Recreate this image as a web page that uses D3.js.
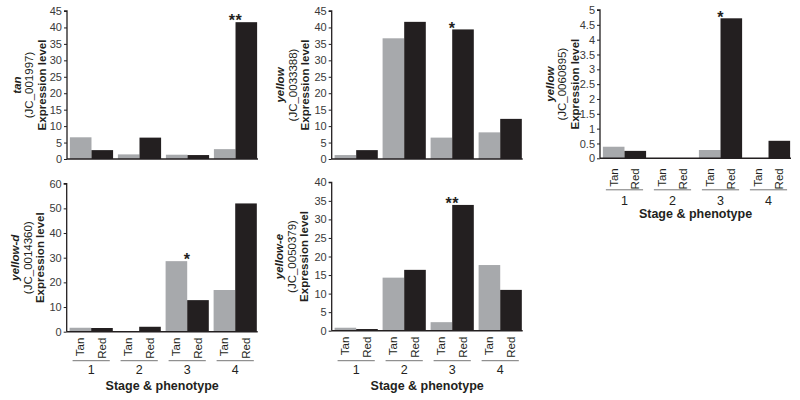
<!DOCTYPE html>
<html><head><meta charset="utf-8">
<script src="https://cdn.jsdelivr.net/npm/d3@7"></script>
<style>
body{margin:0;background:#fff;}
svg{display:block;font-family:"Liberation Sans",Arial,sans-serif;}
</style></head>
<body><svg id="c" width="800" height="400"></svg>
<script>
// ---- data ----
const stages = ["1","2","3","4"];
const phenotypes = ["Tan","Red"];
const geneNames = ["tan","yellow","yellow","yellow-d","yellow-e"];
const geneIds = ["(JC_001997)","(JC_0033388)","(JC_0060895)","(JC_0014360)","(JC_0050379)"];
const yLabel = "Expression level";
const xTitle = "Stage & phenotype";

const tan001997Tan = [6.6, 1.4, 1.3, 3.0];
const tan001997Red = [2.7, 6.5, 1.2, 41.6];
const tan001997Sig = ["", "", "", "**"];

const yellow0033388Tan = [1.2, 36.7, 6.5, 8.1];
const yellow0033388Red = [2.7, 41.7, 39.4, 12.2];
const yellow0033388Sig = ["", "", "*", ""];

const yellow0060895Tan = [0.39, 0, 0.28, 0];
const yellow0060895Red = [0.25, 0, 4.72, 0.59];
const yellow0060895Sig = ["", "", "*", ""];

const yellowD0014360Tan = [1.6, 0.2, 28.6, 16.9];
const yellowD0014360Red = [1.5, 2.0, 12.8, 52.0];
const yellowD0014360Sig = ["", "", "*", ""];

const yellowE0050379Tan = [0.8, 14.3, 2.3, 17.7];
const yellowE0050379Red = [0.45, 16.4, 33.9, 11.0];
const yellowE0050379Sig = ["", "", "**", ""];

const ticks45 = [0,5,10,15,20,25,30,35,40,45];
const ticks5 = [0,0.5,1,1.5,2,2.5,3,3.5,4,4.5,5];
const ticks60 = [0,10,20,30,40,50,60];
const ticks40 = [0,5,10,15,20,25,30,35,40];

const colors = {Tan:"#a7a9ac", Red:"#231f20"};

// ---- layout (positions only) ----
const panels = [
  {i:0, tan:tan001997Tan, red:tan001997Red, sig:tan001997Sig, ticks:ticks45, x0:67, top:11, bottom:159, xl:false, lab:[17,29,41.5], geneDy:0},
  {i:1, tan:yellow0033388Tan, red:yellow0033388Red, sig:yellow0033388Sig, ticks:ticks45, x0:331.7, top:11, bottom:159, xl:false, lab:[280,292.5,305], geneDy:0},
  {i:2, tan:yellow0060895Tan, red:yellow0060895Red, sig:yellow0060895Sig, ticks:ticks5, x0:600, top:10, bottom:158.3, xl:true, lab:[550,562,574.5], geneDy:0, lt:10, ul:31.5, nb:46.5, tb:60},
  {i:3, tan:yellowD0014360Tan, red:yellowD0014360Red, sig:yellowD0014360Sig, ticks:ticks60, x0:66.7, top:183.7, bottom:331.7, xl:true, lab:[15,27.5,40], geneDy:0, lt:6, ul:29, nb:42.5, tb:58.5},
  {i:4, tan:yellowE0050379Tan, red:yellowE0050379Red, sig:yellowE0050379Sig, ticks:ticks40, x0:331.7, top:182.3, bottom:330.7, xl:true, lab:[279,291.5,304], geneDy:0, lt:6, ul:30, nb:43.5, tb:59}
];

const svg = d3.select("#c");

panels.forEach(p => {
  const g = svg.append("g");
  const y = d3.scaleLinear().domain([0, d3.max(p.ticks)]).range([p.bottom, p.top]);
  const x = d3.scaleBand().domain(stages).range([p.x0, p.x0 + 193]).paddingInner(0.1).paddingOuter(0.06);
  const xs = d3.scaleBand().domain(phenotypes).range([0, x.bandwidth()]);
  const xEnd = p.x0 + 191;

  // bars
  stages.forEach((s, k) => {
    const vals = {Tan: p.tan[k], Red: p.red[k]};
    phenotypes.forEach(ph => {
      g.append("rect")
        .attr("x", x(s) + xs(ph))
        .attr("width", xs.bandwidth())
        .attr("y", y(vals[ph]))
        .attr("height", Math.max(0, p.bottom - y(vals[ph])))
        .attr("fill", colors[ph]);
    });
    if (p.sig[k]) {
      g.append("text")
        .attr("x", x(s) + xs.bandwidth())
        .attr("y", y(Math.max(vals.Tan, vals.Red)) + 4.2)
        .attr("text-anchor", "middle")
        .attr("font-size", 16).attr("font-weight", "bold")
        .attr("letter-spacing", 0.5)
        .attr("fill", "#231f20")
        .text(p.sig[k]);
    }
  });

  // y axis
  const ax = d3.axisLeft(y).tickValues(p.ticks).tickSize(3).tickPadding(2).tickFormat(d3.format("~g"));
  const ag = g.append("g").attr("transform", `translate(${p.x0},0)`).call(ax);
  ag.select(".domain").attr("stroke", "#231f20").attr("stroke-width", 1.3).attr("d", `M-3,${p.top}H0V${p.bottom}`);
  ag.selectAll(".tick line").attr("stroke", "#231f20");
  ag.selectAll(".tick text").attr("font-size", 11).attr("fill", "#3a3a3a").attr("font-family", "Liberation Sans, Arial, sans-serif");

  // baseline
  g.append("line").attr("x1", p.x0).attr("x2", xEnd).attr("y1", p.bottom).attr("y2", p.bottom)
    .attr("stroke", "#231f20").attr("stroke-width", 1.6);

  // y label
  const cy = (p.top + p.bottom) / 2;
  const ylines = [
    {t: geneNames[p.i], cx: p.lab[0], dy: p.geneDy, style: "italic", w: "bold"},
    {t: geneIds[p.i], cx: p.lab[1], dy: 0, style: "normal", w: "normal"},
    {t: yLabel, cx: p.lab[2], dy: 0, style: "normal", w: "bold"}
  ];
  ylines.forEach(l => {
    g.append("text")
      .attr("transform", `translate(${l.cx},${cy + l.dy}) rotate(-90)`)
      .attr("text-anchor", "middle").attr("dominant-baseline", "central")
      .attr("font-size", 11.5).attr("font-style", l.style).attr("font-weight", l.w)
      .attr("fill", "#231f20")
      .text(l.t);
  });

  // x labels
  if (p.xl) {
    stages.forEach(s => {
      phenotypes.forEach(ph => {
        g.append("text")
          .attr("transform", `translate(${x(s) + xs(ph) + xs.bandwidth()/2},${p.bottom + p.lt}) rotate(-90)`)
          .attr("text-anchor", "end").attr("dominant-baseline", "central")
          .attr("font-size", 11.5).attr("fill", "#231f20")
          .text(ph);
      });
      g.append("line")
        .attr("x1", x(s) + 3).attr("x2", x(s) + x.bandwidth() - 3)
        .attr("y1", p.bottom + p.ul).attr("y2", p.bottom + p.ul)
        .attr("stroke", "#777").attr("stroke-width", 1);
      g.append("text")
        .attr("x", x(s) + x.bandwidth()/2).attr("y", p.bottom + p.nb)
        .attr("text-anchor", "middle").attr("font-size", 12.5).attr("fill", "#231f20")
        .text(s);
    });
    g.append("text")
      .attr("x", (p.x0 + xEnd)/2).attr("y", p.bottom + p.tb)
      .attr("text-anchor", "middle").attr("font-size", 12.5).attr("font-weight", "bold")
      .attr("fill", "#231f20")
      .text(xTitle);
  }
});
</script>
</body></html>
